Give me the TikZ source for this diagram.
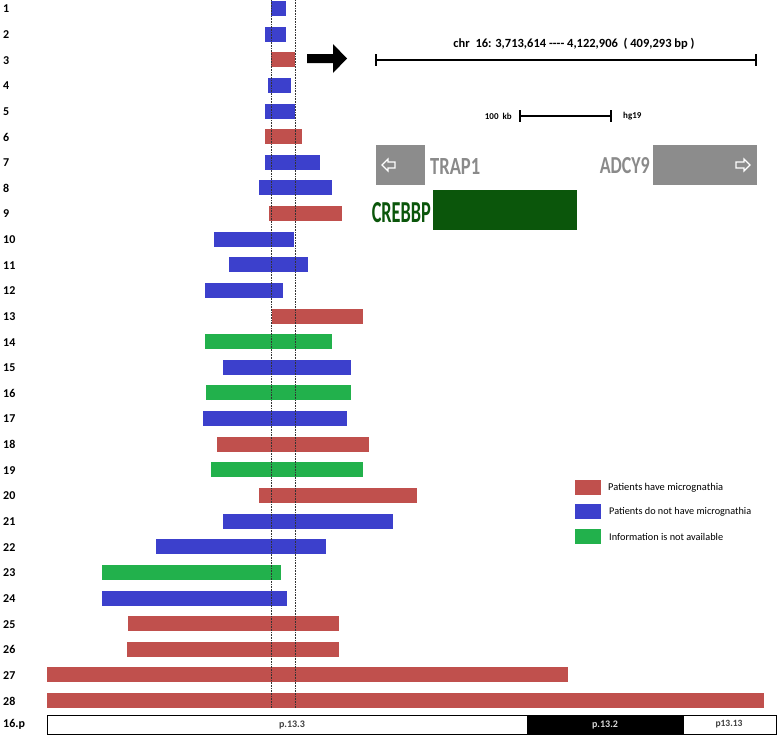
\documentclass[tikz,border=0pt]{standalone}
\usepackage{fontspec}
\setmainfont{Carlito}
\usepackage{graphicx}
\definecolor{cR}{HTML}{C0504D}
\definecolor{cB}{HTML}{3C40CC}
\definecolor{cG}{HTML}{22B14C}
\definecolor{gbox}{HTML}{8C8C8C}
\definecolor{gtext}{HTML}{8A8A8A}
\definecolor{dgreen}{HTML}{0B560B}
\begin{document}
\begin{tikzpicture}[x=1pt,y=-1pt,
  rowlabel/.style={anchor=west,inner sep=0pt,font=\fontsize{12}{13}\selectfont\bfseries},
  legtext/.style={anchor=west,inner sep=0pt,font=\fontsize{11.5}{12}\selectfont},
  swatch/.style={draw=none,minimum width=26pt,minimum height=15pt,inner sep=0pt},
  genebox/.style={fill=gbox,draw=none,inner sep=0pt,minimum height=40pt},
  hollow/.style={draw=white,line width=1.2pt,fill=gbox,line join=miter},
  bandlab/.style={inner sep=0pt,font=\fontsize{10}{11}\selectfont\bfseries},
  guide/.style={densely dotted,line width=0.6pt,black!80}]
\useasboundingbox (0,0) rectangle (778,736);
% bars
\foreach \n/\a/\b/\c in {1/271/286/cB,2/265/286/cB,3/271/295/cR,4/268/291/cB,5/265/295/cB,
  6/265/302/cR,7/265/320/cB,8/259/332/cB,9/269/342/cR,10/214/294/cB,11/229/308/cB,
  12/205/283/cB,13/272/363/cR,14/205/332/cG,15/223/351/cB,16/206/351/cG,17/203/347/cB,
  18/217/369/cR,19/211/363/cG,20/259/417/cR,21/223/393/cB,22/156/326/cB,23/102/281/cG,
  24/102/287/cB,25/128/339/cR,26/127/339/cR,27/47/568/cR,28/47/764/cR}{
  \pgfmathsetmacro\yc{8.5+(\n-1)*25.63}
  \fill[\c] (\a,\yc-7.5) rectangle (\b,\yc+7.5);
  \node[rowlabel] (r\n) at (3,\yc+0.5) {\n};
}
% guide lines
\draw[guide] (271.5,0) -- (271.5,708);
\draw[guide] (295,0) -- (295,708);
% ideogram
\node[rowlabel] (chrlab) at (3,724) {16.p};
\fill[white] (47,715) rectangle (776,734);
\fill[black] (527,715) rectangle (684,734);
\draw[line width=1pt] (47,715) rectangle (776,734);
\node[bandlab,text=black!75] (b1) at (292,724.5) {\resizebox{26pt}{!}{p.13.3}};
\node[bandlab,text=white!85!black] (b2) at (605,724.5) {\resizebox{26pt}{!}{p.13.2}};
\node[bandlab,text=black!75] (b3) at (729,724.5) {\resizebox{27pt}{!}{p13.13}};
% big arrow
\fill[black] (307,54) -- (333,54) -- (333,44) -- (347,58.5) -- (333,73) -- (333,63) -- (307,63) -- cycle;
% chr line
\node[inner sep=0pt,font=\fontsize{12.5}{13}\selectfont\bfseries] (title) at (574,44) {chr\ \ 16: 3,713,614 {-}{-}{-}{-} 4,122,906\ \ ( 409,293 bp )};
\coordinate (cl) at (376,60);
\coordinate (cr) at (756,60);
\draw[line width=1.6pt] (cl) -- (cr);
\draw[line width=1.2pt] (376,54) -- (376,66) (756,54) -- (756,66);
% scale bar
\node[anchor=east,inner sep=0pt,font=\fontsize{9}{10}\selectfont\bfseries] (kb) at (512,116) {100\ \ kb};
\node[anchor=west,inner sep=0pt,font=\fontsize{9}{10}\selectfont\bfseries] (hg) at (623,116) {hg19};
\coordinate (sl) at (520,116);
\coordinate (sr) at (611,116);
\draw[line width=2pt] (sl) -- (sr);
\draw[line width=1.2pt] (520,110) -- (520,122) (611,110) -- (611,122);
% genes
\node[genebox,minimum width=49pt] (trap) at (400.5,165) {};
\draw[hollow] (382,165) -- (388,159) -- (388,162) -- (395,162) -- (395,168) -- (388,168) -- (388,171) -- cycle;
\node[anchor=west,inner sep=0pt,text=gtext,font=\bfseries] (trapl) at (430,166) {\resizebox{50pt}{16pt}{TRAP1}};
\node[genebox,minimum width=104pt] (adcy) at (705,165) {};
\draw[hollow] (750,165) -- (744,159) -- (744,162) -- (736,162) -- (736,168) -- (744,168) -- (744,171) -- cycle;
\node[anchor=east,inner sep=0pt,text=gtext,font=\bfseries] (adcyl) at (650,166) {\resizebox{50pt}{16pt}{ADCY9}};
\node[fill=dgreen,draw=none,inner sep=0pt,minimum width=144pt,minimum height=40pt] (creb) at (505,210) {};
\node[anchor=east,inner sep=0pt,text=dgreen,font=\bfseries] (crebl) at (431,213) {\resizebox{59pt}{20pt}{CREBBP}};
% legend
\node[swatch,fill=cR] (lr) at (588,487.5) {};
\node[swatch,fill=cB] (lb) at (588,511.5) {};
\node[swatch,fill=cG] (lg) at (588,536.5) {};
\node[legtext] (lrt) at (608,488) {\resizebox{115pt}{!}{Patients have micrognathia}};
\node[legtext] (lbt) at (609,512) {\resizebox{142pt}{!}{Patients do not have micrognathia}};
\node[legtext] (lgt) at (609,537) {\resizebox{114pt}{!}{Information is not available}};
\end{tikzpicture}
\end{document}
